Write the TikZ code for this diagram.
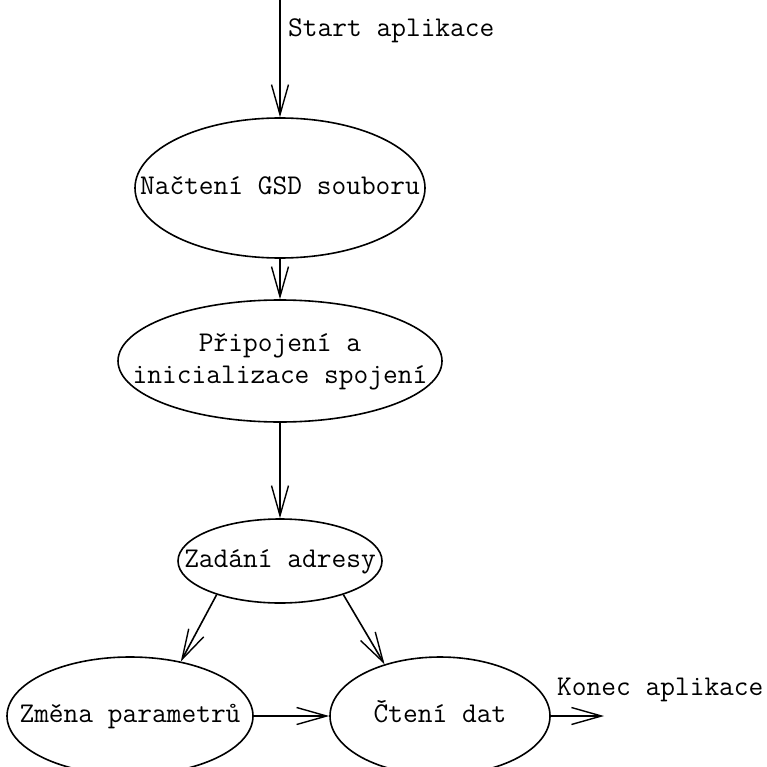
\documentclass[tikz,border=0pt]{standalone}
\usepackage{fontspec}
\setmonofont{Latin Modern Mono}
\usetikzlibrary{shapes.geometric,arrows.meta}
% zero-width centred text, so the ellipse size is set by minimum width/height alone
\newcommand\statetext[1]{\makebox[0pt]{\begin{tabular}{@{}c@{}}#1\end{tabular}}}
\begin{document}
\begin{tikzpicture}[x=1pt,y=-1pt,
  txt/.style={font=\ttfamily\fontsize{28.6}{32}\selectfont},
  state/.style={draw,ellipse,line width=1.6pt,inner sep=0pt,txt},
  flow/.style={line width=1.6pt,-{Straight Barb[length=30pt,width=17pt,line width=1.4pt]}},
  lbl/.style={txt,inner sep=0pt}]
\useasboundingbox (0,0) rectangle (766,767);
\clip (0,0) rectangle (766,767);
% states
\node[state,minimum width=290pt,minimum height=140pt] (load) at (280,188) {\statetext{Načtení GSD souboru}};
\node[state,minimum width=324pt,minimum height=122pt] (conn) at (280,361) {\statetext{Připojení a\\inicializace spojení}};
\node[state,minimum width=204pt,minimum height=84pt] (addr) at (280,561) {\statetext{Zadání adresy}};
\node[state,minimum width=246pt,minimum height=118pt] (param) at (130,716) {\statetext{Změna parametrů}};
\node[state,minimum width=220pt,minimum height=118pt] (read) at (440,716) {\statetext{Čtení dat}};
% entry and exit points
\coordinate (start) at (280,0);
\coordinate (stop) at (604,716);
\node[lbl,anchor=west] (startlbl) at (288,31) {Start aplikace};
\node[lbl,anchor=west] (stoplbl) at (557,690) {Konec aplikace};
% transitions
\draw[flow] (start) -- (load.north);
\draw[flow] (load.south) -- (conn.north);
\draw[flow] (conn.south) -- (addr.north);
\draw[flow] (addr.208) -- (param.47);
\draw[flow] (addr.332) -- (read.137);
\draw[flow] (param.east) -- (read.west);
\draw[flow] (read.east) -- (stop);
\end{tikzpicture}
\end{document}
